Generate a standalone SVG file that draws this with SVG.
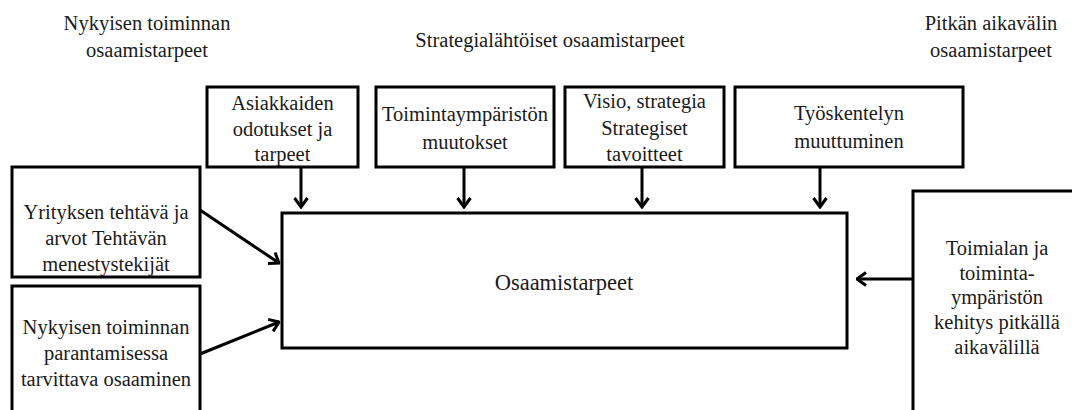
<svg xmlns="http://www.w3.org/2000/svg" width="1072" height="410" viewBox="0 0 1072 410">
<defs>
<style>
.box{fill:#fff;stroke:#000;stroke-width:3}
.t{font-family:'Liberation Serif','Times New Roman',Times,'DejaVu Serif',serif;font-size:20.5px;fill:#1a1a1a;text-anchor:middle}
.big{font-size:22.5px}
.con{stroke:#000;stroke-width:3;fill:none}
</style>
<marker id="ah" viewBox="0 0 12 16" refX="10.5" refY="8" markerWidth="12" markerHeight="16" markerUnits="userSpaceOnUse" orient="auto">
<path d="M1.5,1.5 L10.5,8 L1.5,14.5" fill="none" stroke="#000" stroke-width="3" stroke-linejoin="miter"/>
</marker>
</defs>
<rect width="1072" height="410" fill="#fff"/>

<g id="labels" font-family="Liberation Serif, serif">
<text class="t" x="147" y="30">Nykyisen toiminnan</text>
<text class="t" x="147" y="57">osaamistarpeet</text>
<text class="t" x="550" y="47">Strategialähtöiset osaamistarpeet</text>
<text class="t" x="991" y="30">Pitkän aikavälin</text>
<text class="t" x="991" y="57">osaamistarpeet</text>
</g>

<g id="n-asiakkaiden">
<rect class="box" x="207" y="87" width="151" height="80"/>
<text class="t" x="282.5" y="110">Asiakkaiden</text>
<text class="t" x="282.5" y="136">odotukset ja</text>
<text class="t" x="282.5" y="161">tarpeet</text>
</g>

<g id="n-toimintaymparisto">
<rect class="box" x="376" y="87" width="178" height="80"/>
<text class="t" x="465" y="121">Toimintaympäristön</text>
<text class="t" x="465" y="149">muutokset</text>
</g>

<g id="n-visio">
<rect class="box" x="565" y="87" width="159" height="80"/>
<text class="t" x="644.5" y="108">Visio, strategia</text>
<text class="t" x="644.5" y="135">Strategiset</text>
<text class="t" x="644.5" y="161">tavoitteet</text>
</g>

<g id="n-tyoskentely">
<rect class="box" x="735" y="87" width="228" height="80"/>
<text class="t" x="849" y="120">Työskentelyn</text>
<text class="t" x="849" y="148">muuttuminen</text>
</g>

<g id="n-yritys">
<rect class="box" x="12" y="167" width="188" height="110"/>
<text class="t" x="106" y="219">Yrityksen tehtävä ja</text>
<text class="t" x="106" y="245">arvot Tehtävän</text>
<text class="t" x="106" y="271">menestystekijät</text>
</g>

<g id="n-nykyinen">
<rect class="box" x="12" y="286" width="188" height="140"/>
<text class="t" x="106" y="334">Nykyisen toiminnan</text>
<text class="t" x="106" y="360">parantamisessa</text>
<text class="t" x="106" y="386">tarvittava osaaminen</text>
</g>

<g id="n-toimiala">
<rect class="box" x="913" y="191" width="170" height="240"/>
<text class="t" x="997" y="255">Toimialan ja</text>
<text class="t" x="997" y="280">toiminta-</text>
<text class="t" x="997" y="304">ympäristön</text>
<text class="t" x="997" y="329">kehitys pitkällä</text>
<text class="t" x="997" y="354">aikavälillä</text>
</g>

<g id="n-osaamistarpeet">
<rect class="box" x="282" y="213" width="565" height="135"/>
<text class="t big" x="564" y="290">Osaamistarpeet</text>
</g>

<g id="connectors">
<line class="con" x1="301" y1="168" x2="301" y2="207" marker-end="url(#ah)"/>
<line class="con" x1="464" y1="168" x2="464" y2="207" marker-end="url(#ah)"/>
<line class="con" x1="642" y1="168" x2="642" y2="207" marker-end="url(#ah)"/>
<line class="con" x1="820" y1="168" x2="820" y2="207" marker-end="url(#ah)"/>
<line class="con" x1="200" y1="210" x2="279" y2="263" marker-end="url(#ah)"/>
<line class="con" x1="200" y1="354" x2="279" y2="322" marker-end="url(#ah)"/>
<line class="con" x1="912" y1="279" x2="857" y2="279" marker-end="url(#ah)"/>
</g>
</svg>
